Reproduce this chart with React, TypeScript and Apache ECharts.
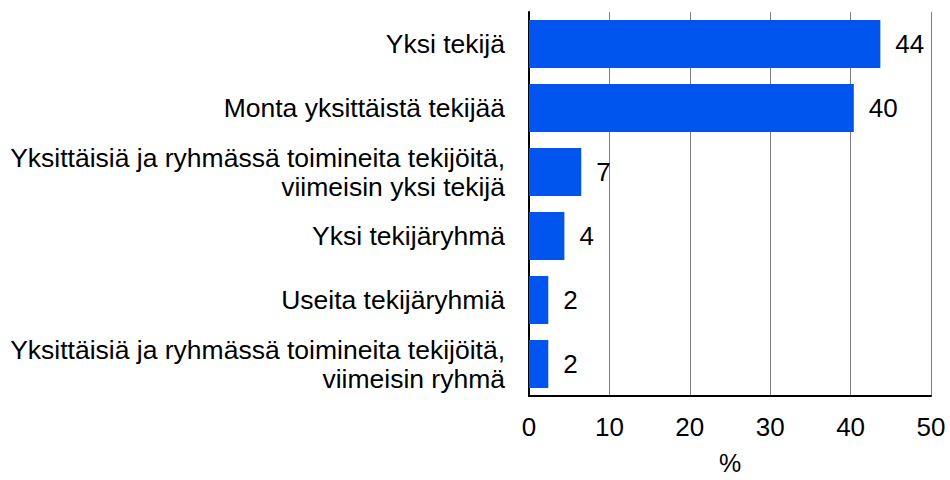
import React, { useEffect, useRef } from "react";
import * as echarts from "echarts";

const categories = [
  "Yksi tekijä",
  "Monta yksittäistä tekijää",
  "Yksittäisiä ja ryhmässä toimineita tekijöitä,\nviimeisin yksi tekijä",
  "Yksi tekijäryhmä",
  "Useita tekijäryhmiä",
  "Yksittäisiä ja ryhmässä toimineita tekijöitä,\nviimeisin ryhmä",
];
const values = [43.7, 40.4, 6.5, 4.4, 2.4, 2.4];
const xTicks = [0, 10, 20, 30, 40, 50];
const axisName = "%";

const FONT = "'Liberation Sans', Arial, sans-serif";
const FS = 26;

export default function App() {
  const ref = useRef<HTMLDivElement>(null);
  useEffect(() => {
    if (!ref.current) return;
    const chart = echarts.init(ref.current, null, { renderer: "svg" });
    chart.setOption({
      animation: false,
      textStyle: { fontFamily: FONT },
      grid: {
        left: 529,
        right: 19,
        top: 12,
        bottom: 84,
        containLabel: false,
        outerBoundsMode: "none",
      },
      xAxis: {
        type: "value",
        min: xTicks[0],
        max: xTicks[xTicks.length - 1],
        interval: 10,
        name: axisName,
        nameLocation: "middle",
        nameGap: 57,
        nameTextStyle: { fontSize: 25, lineHeight: 20, color: "#000", fontFamily: FONT },
        axisLine: { show: true, lineStyle: { color: "#000", width: 2 } },
        axisTick: { show: false },
        axisLabel: { fontSize: FS, color: "#000", margin: 18, fontFamily: FONT },
        splitLine: { show: true, lineStyle: { color: "#808080", width: 1 } },
      },
      yAxis: {
        type: "category",
        data: categories,
        inverse: true,
        axisLine: { show: true, lineStyle: { color: "#000", width: 2 } },
        axisTick: { show: false },
        axisLabel: {
          fontSize: 26.5,
          color: "#000",
          margin: 24,
          align: "right",
          lineHeight: 29,
          fontFamily: FONT,
        },
        splitLine: { show: false },
      },
      series: [
        {
          type: "bar",
          data: values,
          barCategoryGap: "25%",
          itemStyle: { color: "#0055EE" },
          label: {
            show: true,
            position: "right",
            distance: 15,
            fontSize: FS,
            color: "#000",
            fontFamily: FONT,
            formatter: (p: any) => String(Math.round(p.value)),
          },
        },
      ],
    });
    return () => chart.dispose();
  }, []);
  return <div ref={ref} style={{ width: 950, height: 480, position: "absolute", left: 0, top: 0 }} />;
}
